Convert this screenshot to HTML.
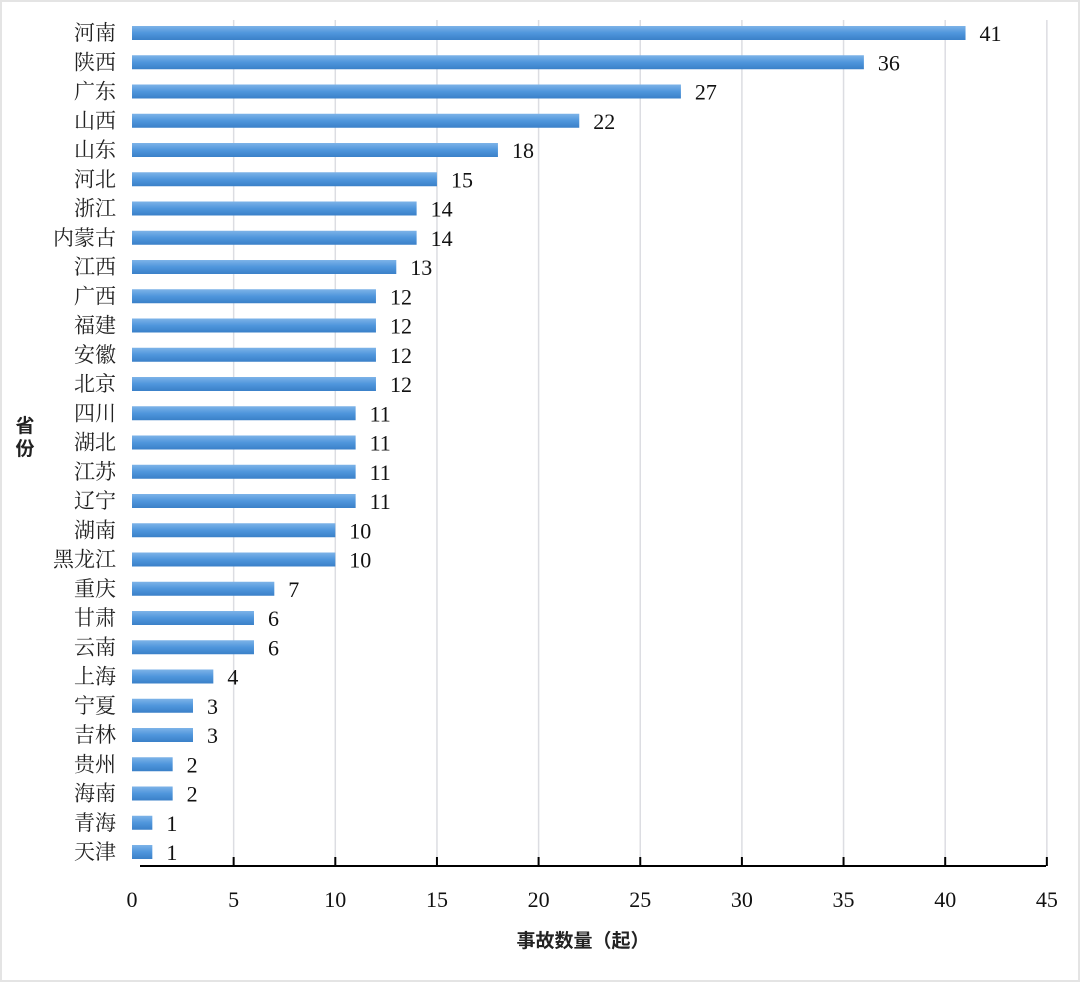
<!DOCTYPE html>
<html><head><meta charset="utf-8"><style>
body{margin:0;background:#fff;}
svg{display:block}
.l{font-family:"Liberation Serif","Noto Serif CJK SC",serif;font-size:21px;fill:#222}
.n{font-family:"Liberation Serif",serif;font-size:22px;fill:#111}
.t{font-family:"Liberation Sans","Noto Sans CJK SC",sans-serif;font-size:19px;fill:#222;font-weight:bold}
</style></head><body>
<svg width="1080" height="982" xmlns="http://www.w3.org/2000/svg">
<defs><linearGradient id="g" x1="0" y1="0" x2="0" y2="1"><stop offset="0" stop-color="#7db3e8"/><stop offset="0.5" stop-color="#4f96dc"/><stop offset="1" stop-color="#3a80c8"/></linearGradient></defs>
<rect x="0.5" y="0.5" width="1079" height="981" fill="#fff" stroke="#e4e4e4" stroke-width="3"/>
<g id="grid" stroke="#dcdde2" stroke-width="1.5"></g>
<g id="bars"></g>
<line x1="140" y1="866" x2="1046" y2="866" stroke="#000" stroke-width="2"/>
<g id="ticks"></g>
<text class="t" x="583" y="947" text-anchor="middle">事故数量（起）</text>
<text class="t" x="25" y="432" text-anchor="middle">省</text>
<text class="t" x="25" y="455" text-anchor="middle">份</text>
</svg>
<script>
var d=[["河南",41],["陕西",36],["广东",27],["山西",22],["山东",18],["河北",15],["浙江",14],["内蒙古",14],["江西",13],["广西",12],["福建",12],["安徽",12],["北京",12],["四川",11],["湖北",11],["江苏",11],["辽宁",11],["湖南",10],["黑龙江",10],["重庆",7],["甘肃",6],["云南",6],["上海",4],["宁夏",3],["吉林",3],["贵州",2],["海南",2],["青海",1],["天津",1]];
var ns="http://www.w3.org/2000/svg",s=20.33,x0=132;
function el(p,t,a,txt){var e=document.createElementNS(ns,t);for(var k in a)e.setAttribute(k,a[k]);if(txt!=null)e.textContent=txt;document.getElementById(p).appendChild(e);return e;}
for(var i=1;i<=9;i++){var x=x0+i*5*s;el("grid","line",{x1:x,y1:20,x2:x,y2:866});}
for(var i=0;i<=9;i++){var x=x0+i*5*s;if(i>0)el("ticks","line",{x1:x,y1:857,x2:x,y2:866,stroke:"#000","stroke-width":2});el("ticks","text",{x:x,y:907,"text-anchor":"middle","class":"n"},i*5);}
d.forEach(function(r,i){var y=33+i*29.25;el("bars","rect",{x:x0,y:y-7,width:r[1]*s,height:14,fill:"url(#g)"});
el("bars","text",{x:116,y:y+7,"text-anchor":"end","class":"l"},r[0]);
el("bars","text",{x:x0+r[1]*s+14,y:y+8,"class":"n"},r[1]);});
</script>
</body></html>
